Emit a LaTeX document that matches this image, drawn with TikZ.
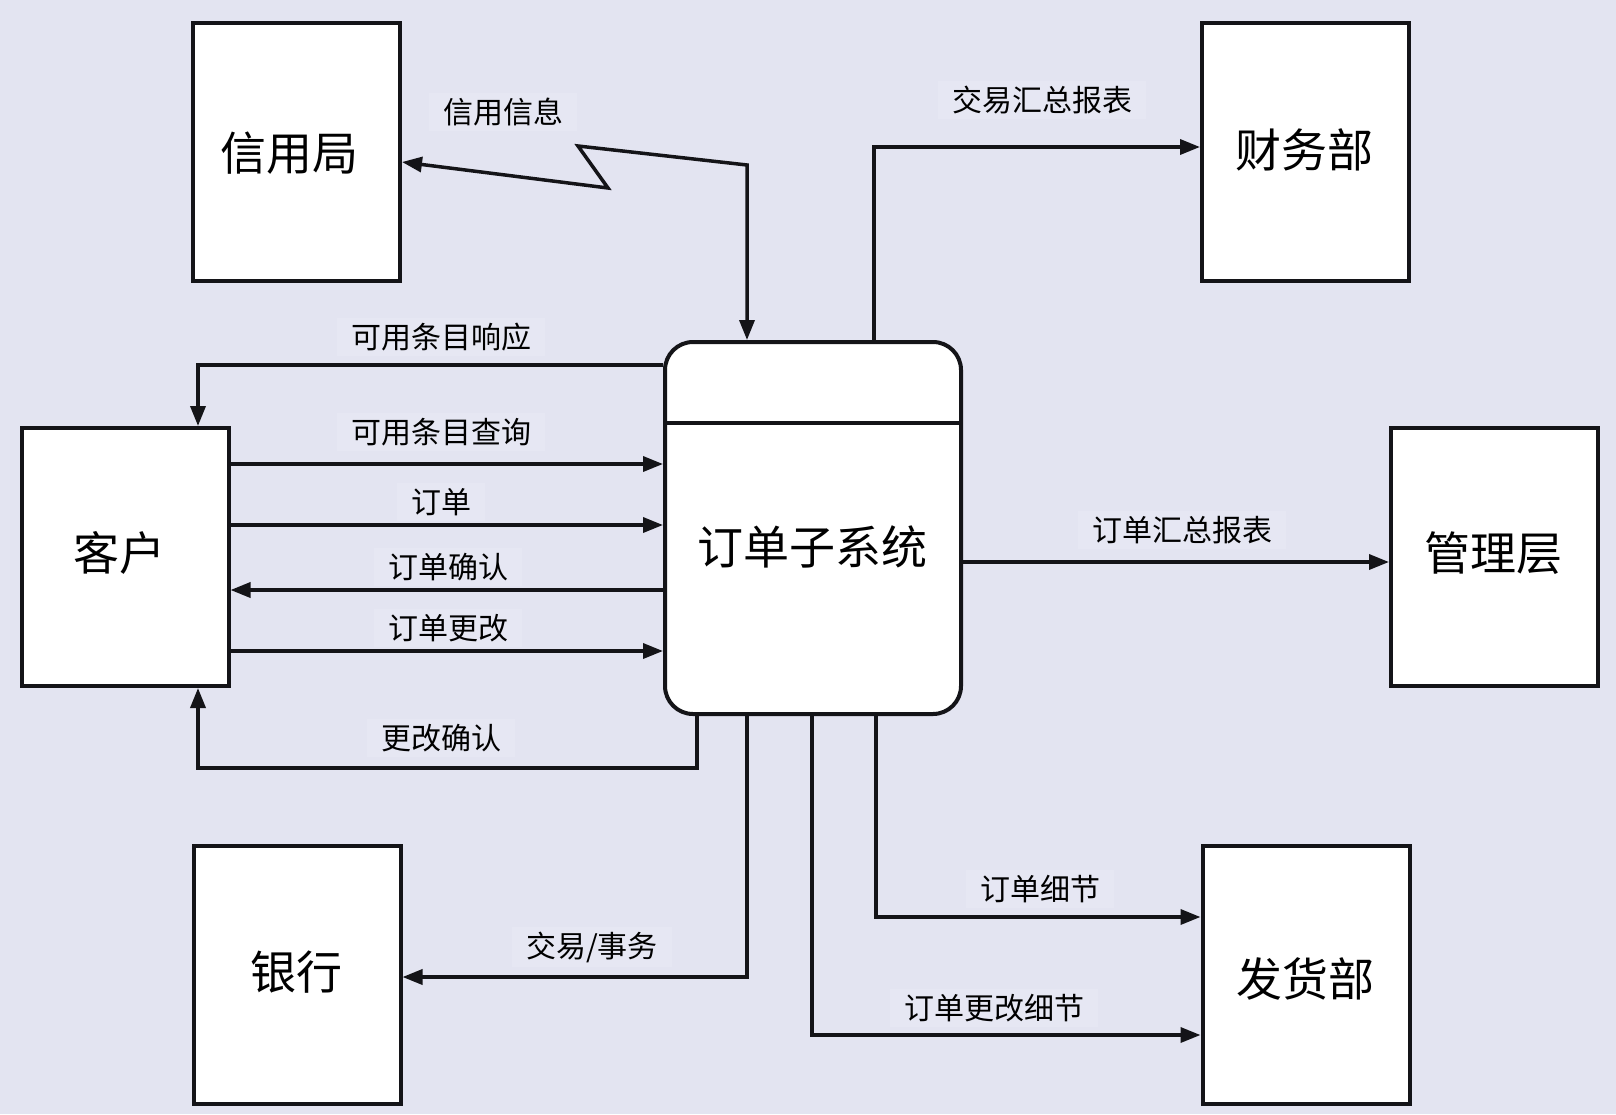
\documentclass[tikz,border=0pt]{standalone}
\usepackage{fontspec}
\setmainfont{Noto Sans CJK SC}
\usetikzlibrary{arrows.meta}
\definecolor{bg}{RGB}{227,228,241}
\definecolor{labelbg}{RGB}{230,231,243}
\definecolor{ink}{RGB}{20,20,24}
\begin{document}
\begin{tikzpicture}[x=1pt,y=-1pt,
  ent/.style={draw=ink,line width=4pt,fill=white,inner sep=0pt,
              minimum width=207pt,minimum height=258pt},
  proc/.style={draw=ink,line width=4pt,fill=white,rounded corners=28pt,
               minimum width=296pt,minimum height=372pt,inner sep=0pt},
  big/.style={font=\fontsize{46}{50}\selectfont,inner sep=0pt,text=black},
  lbl/.style={font=\fontsize{30}{34}\selectfont,fill=labelbg,inner xsep=14pt,inner ysep=5pt,text=black},
  flow/.style={draw=ink,line width=3.5pt,-{Triangle[length=20pt,width=15pt]}},
  flowboth/.style={draw=ink,line width=3.5pt,{Triangle[length=20pt,width=15pt]}-{Triangle[length=20pt,width=15pt]}},
]
% canvas
\fill[bg] (0,0) rectangle (1616,1114);
\useasboundingbox (0,0) rectangle (1616,1114);

% external entities
\node[ent] (credit)  at (296.5,151.5) {};
\node[ent] (finance) at (1305.5,151.5) {};
\node[ent] (cust)    at (125,557) {};
\node[ent] (mgmt)    at (1494.5,556.5) {};
\node[ent] (bank)    at (297,975) {};
\node[ent] (ship)    at (1306,975) {};

% central process
\node[proc] (sys) at (813,528) {};
\draw[draw=ink,line width=4pt] (sys.west |- 0,423) -- (sys.east |- 0,423);

% entity titles
\node[big] (tcredit)  at (289,153)  {信用局};
\node[big] (tfinance) at (1304,150) {财务部};
\node[big] (tcust)    at (119,553)  {客户};
\node[big] (tmgmt)    at (1493,553) {管理层};
\node[big] (tbank)    at (296,972)  {银行};
\node[big] (tship)    at (1305,979) {发货部};
\node[big] (tsys)     at (812,547)  {订单子系统};

% data flows
\draw[flowboth] (credit.east |- 0,162) -- (608,188) -- (578,146) -- (747,165) -- (sys.north -| 747,0);
\draw[flow] (sys.west |- 0,365) -| (cust.north -| 198,0);
\draw[flow] (cust.east |- 0,464) -- (sys.west |- 0,464);
\draw[flow] (cust.east |- 0,525) -- (sys.west |- 0,525);
\draw[flow] (sys.west |- 0,590) -- (cust.east |- 0,590);
\draw[flow] (cust.east |- 0,651) -- (sys.west |- 0,651);
\draw[flow] (sys.south -| 697,0) |- (198,768) -- (cust.south -| 198,0);
\draw[flow] (sys.north -| 874,0) |- (finance.west |- 0,147);
\draw[flow] (sys.east |- 0,562) -- (mgmt.west |- 0,562);
\draw[flow] (sys.south -| 747,0) |- (bank.east |- 0,977);
\draw[flow] (sys.south -| 876,0) |- (ship.west |- 0,917);
\draw[flow] (sys.south -| 812,0) |- (ship.west |- 0,1035);

% flow labels
\node[lbl] (l1)  at (503,112)  {信用信息};
\node[lbl] (l2)  at (441,337)  {可用条目响应};
\node[lbl] (l3)  at (441,432)  {可用条目查询};
\node[lbl] (l4)  at (441,502)  {订单};
\node[lbl] (l5)  at (448,567)  {订单确认};
\node[lbl] (l6)  at (448,628)  {订单更改};
\node[lbl] (l7)  at (441,738)  {更改确认};
\node[lbl] (l8)  at (1042,100) {交易汇总报表};
\node[lbl] (l9)  at (1182,530) {订单汇总报表};
\node[lbl] (l10) at (592,947)  {交易/事务};
\node[lbl] (l11) at (1040,889) {订单细节};
\node[lbl] (l12) at (994,1008) {订单更改细节};
\end{tikzpicture}
\end{document}
